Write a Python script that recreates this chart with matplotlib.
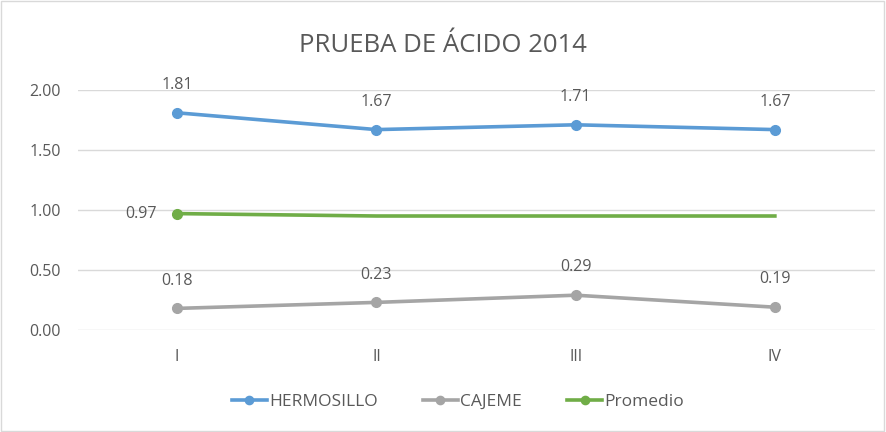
import numpy as np
import matplotlib.pyplot as plt

plt.rcParams['font.family'] = ['Open Sans', 'DejaVu Sans']

categories = ['I', 'II', 'III', 'IV']
hermosillo = [1.81, 1.67, 1.71, 1.67]
cajeme = [0.18, 0.23, 0.29, 0.19]
promedio = [0.97, 0.95, 0.95, 0.95]
yticks = [0.0, 0.5, 1.0, 1.5, 2.0]

text_col = '#595959'
grid_col = '#D9D9D9'

fig = plt.figure(figsize=(8.86, 4.32), dpi=100)
ax = fig.add_axes([77.5 / 886, 102 / 432, 797 / 886, 240 / 432])
x = np.arange(len(categories))

ax.plot(x, hermosillo, color='#5B9BD5', lw=2.6, marker='o', ms=7, label='HERMOSILLO', zorder=3)
ax.plot(x, cajeme, color='#A5A5A5', lw=2.6, marker='o', ms=7, label='CAJEME', zorder=3)
ax.plot(x, promedio, color='#70AD47', lw=2.6, marker='o', ms=7, markevery=[0], label='Promedio', zorder=3)

for xi, v in zip(x, hermosillo):
    ax.annotate(f'{v:.2f}', (xi, v), xytext=(0, 20), textcoords='offset points',
                ha='center', va='center', fontsize=11.5, color=text_col)
for xi, v in zip(x, cajeme):
    ax.annotate(f'{v:.2f}', (xi, v), xytext=(0, 20), textcoords='offset points',
                ha='center', va='center', fontsize=11.5, color=text_col)
ax.annotate(f'{promedio[0]:.2f}', (x[0], promedio[0]), xytext=(-26, 0), textcoords='offset points',
            ha='center', va='center', fontsize=11.5, color=text_col)

ax.set_xlim(-0.5, len(categories) - 0.5)
ax.set_ylim(0, 2.0)
ax.set_yticks(yticks)
ax.set_yticklabels([f'{t:.2f}' for t in yticks])
ax.set_xticks(x)
ax.set_xticklabels(categories)
ax.tick_params(colors=text_col, labelsize=11.5, length=0)
ax.tick_params(axis='x', pad=14)
ax.tick_params(axis='y', pad=12)
ax.yaxis.grid(True, color=grid_col, lw=1)
ax.set_axisbelow(True)
for s in ax.spines.values():
    s.set_visible(False)

fig.suptitle('PRUEBA DE ÁCIDO 2014', y=1 - 45 / 432, va='center', fontsize=18.5, color=text_col)

fig.legend(loc='center', bbox_to_anchor=(0.517, 1 - 402 / 432), ncol=3, frameon=False,
           fontsize=12.5, labelcolor=text_col, handlelength=2.0, columnspacing=2.6,
           handletextpad=0.15, markerscale=0.85)

fig.patches.append(plt.Rectangle((0.001, 0.002), 0.997, 0.995, transform=fig.transFigure,
                                 fill=False, ec='#D9D9D9', lw=1))

fig.savefig('out.png', dpi=100)
